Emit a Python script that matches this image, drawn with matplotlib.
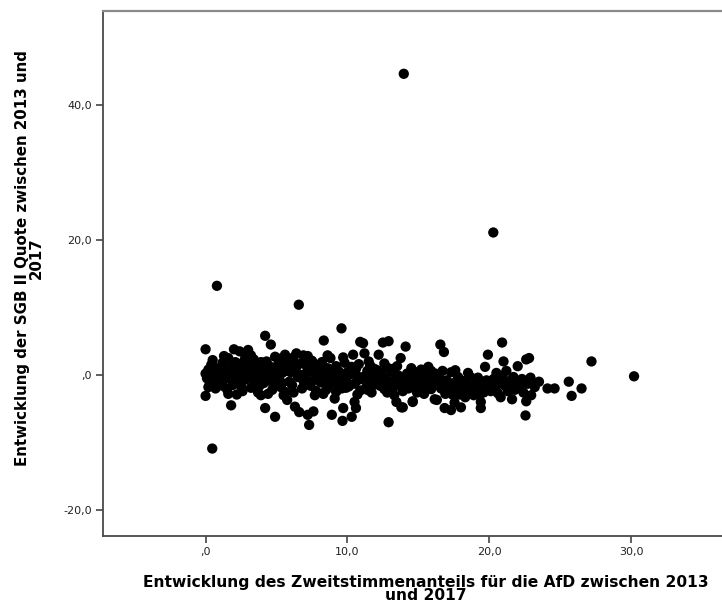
import numpy as np
import matplotlib
matplotlib.use('Agg')
import matplotlib.pyplot as plt

# Entwicklung Zweitstimmenanteil AfD (x) / SGB II Quote (y), 2013 -> 2017
afd = [
    0.0, 0.1, 0.2, 0.3, 0.4, 0.5, 0.6, 0.7, 0.8, 0.9, 0.2, 0.5, 0.9, 0.0, 0.0, 0.7, 0.4,
    1.0, 1.1, 1.2, 1.3, 1.4, 1.5, 1.6, 1.7, 1.8, 1.9, 1.1, 1.3, 1.5, 1.6, 1.8, 1.9, 1.2,
    2.0, 2.1, 2.2, 2.3, 2.4, 2.5, 2.6, 2.7, 2.8, 2.9, 2.2, 2.4, 2.6, 2.8, 2.5, 2.1, 3.0,
    3.0, 3.1, 3.2, 3.3, 3.4, 3.5, 3.6, 3.7, 3.8, 3.9, 3.2, 3.4, 3.6, 3.8, 3.3, 3.9, 3.5,
    4.0, 4.1, 4.2, 4.3, 4.4, 4.5, 4.6, 4.7, 4.8, 4.9, 4.2, 4.9, 4.4, 4.6, 4.1, 4.8, 4.3,
    5.0, 5.1, 5.2, 5.3, 5.4, 5.5, 5.6, 5.75, 5.8, 5.9, 5.2, 5.4, 5.6, 5.7, 5.9, 5.1, 5.5,
    6.0, 6.1, 6.2, 6.3, 6.4, 6.57, 6.6, 6.7, 6.8, 6.9, 6.2, 6.4, 6.5, 6.8, 6.1, 6.9, 6.5,
    7.0, 7.1, 7.2, 7.3, 7.3, 7.4, 7.5, 7.6, 7.7, 7.8, 7.9, 7.2, 7.5, 7.7, 7.9, 7.1, 7.6,
    8.0, 8.1, 8.2, 8.33, 8.4, 8.5, 8.6, 8.7, 8.8, 8.9, 8.3, 8.5, 8.7, 8.9, 8.2, 8.6,
    9.0, 9.1, 9.2, 9.3, 9.4, 9.58, 9.6, 9.65, 9.7, 9.8, 9.9, 9.2, 9.5, 9.7, 9.9, 9.4,
    10.0, 10.1, 10.3, 10.4, 10.5, 10.6, 10.6, 10.7, 10.8, 10.9, 10.9, 10.2, 10.5, 10.8, 10.3, 10.7,
    11.0, 11.1, 11.2, 11.3, 11.4, 11.5, 11.6, 11.7, 11.8, 11.9, 11.2, 11.5, 11.7, 11.9, 11.4,
    12.0, 12.2, 12.3, 12.5, 12.4, 12.6, 12.7, 12.8, 12.9, 12.9, 12.1, 12.5, 12.8, 12.3, 12.6,
    13.0, 13.1, 13.2, 13.45, 13.4, 13.5, 13.6, 13.75, 13.8, 13.8, 13.9, 13.2, 13.6, 13.97, 13.9, 13.3,
    14.0, 14.1, 14.2, 14.3, 14.4, 14.6, 14.6, 14.5, 14.7, 14.8, 14.9, 14.2, 14.5, 14.9,
    15.0, 15.1, 15.2, 15.3, 15.4, 15.5, 15.6, 15.7, 15.8, 15.9, 15.3, 15.6, 15.9,
    16.0, 16.15, 16.3, 16.2, 16.4, 16.55, 16.6, 16.7, 16.8, 16.85, 16.9, 16.3, 16.6, 16.9,
    17.0, 17.1, 17.3, 17.3, 17.55, 17.5, 17.7, 17.8, 17.9, 18.0, 17.4, 17.6, 17.9,
    18.1, 18.2, 18.4, 18.5, 18.6, 18.7, 18.8, 18.9, 18.3, 18.6, 18.9,
    19.0, 19.1, 19.2, 19.4, 19.4, 19.5, 19.7, 19.6, 19.8, 19.9, 19.9, 19.3,
    20.0, 20.1, 20.28, 20.3, 20.4, 20.5, 20.6, 20.7, 20.8, 20.9, 21.0, 20.9, 20.5,
    21.1, 21.2, 21.3, 21.4, 21.5, 21.6, 21.7, 21.8, 21.9, 22.0,
    22.1, 22.3, 22.4, 22.55, 22.6, 22.6, 22.8, 22.95, 22.7, 22.9,
    23.0, 23.2, 23.5, 24.1, 24.6, 25.6, 25.8, 26.5, 27.2, 30.2,
    0.8, 0.47,
]
sgb = [
    0.2, -0.5, 0.8, -1.2, 1.5, -0.2, 0.4, -2.0, 1.0, -0.8, -1.8, 2.2, 0.1, 3.8, -3.1, -1.4, -0.4,
    0.5, -1.0, 1.8, -0.3, 0.9, -2.1, 2.5, -0.6, 1.2, -1.5, 0.0, 2.8, 0.3, -2.8, -4.5, 0.6, -1.6,
    3.8, -0.2, 1.4, -1.1, 3.5, 0.5, -2.4, 2.0, -0.7, 1.1, -2.9, -0.5, 0.9, 2.6, -1.7, 1.9, 3.7,
    -0.3, 1.6, -1.9, 0.4, 2.3, -0.9, 1.0, -2.6, 0.0, 1.9, 2.9, -1.4, -0.3, -1.6, 0.9, -3.0, 0.6,
    0.8, -1.2, 5.8, 2.0, -0.4, 1.3, 4.5, -2.2, 0.2, 2.7, -4.9, -6.2, -2.8, -0.9, 1.8, -1.5, 0.5,
    1.0, -0.6, 2.4, -1.8, 0.3, 1.7, -2.5, -3.7, 0.9, 2.2, -0.1, -1.2, 3.0, 0.6, -1.0, 1.5, -3.0,
    0.4, -1.5, 2.6, -4.7, 1.2, 10.4, -5.5, 0.0, 1.8, -0.9, -2.6, 3.2, -0.3, -2.0, 0.9, 2.9, 1.5,
    -0.5, 1.4, -5.9, -7.4, 0.7, -1.6, 2.1, -5.4, 0.2, -2.4, 1.1, 2.8, -0.9, -3.0, -0.2, 0.3, 1.7,
    0.6, -1.1, 1.9, 5.1, -0.4, -2.2, 1.0, -1.6, 2.5, -5.9, -2.8, 0.1, 0.8, -0.9, -0.6, 2.9,
    -0.2, -3.5, 1.3, -1.4, 0.5, 6.9, -2.0, -6.8, -4.9, 1.8, -0.7, -2.5, 0.2, 2.6, -1.9, -1.0,
    0.4, -1.7, -6.2, 3.0, -4.0, -4.9, 0.9, -0.8, 1.6, 4.9, -2.3, 0.1, -1.3, -0.3, 1.2, -2.9,
    -0.6, 4.7, 3.2, -1.9, 0.6, -0.9, 1.4, -2.6, 0.0, -1.4, -0.2, 2.0, -0.4, 0.9, -2.2,
    -0.8, 3.0, -1.6, 4.8, 0.3, -2.1, -0.5, 1.1, 5.0, -7.0, 0.7, -1.2, -2.6, -0.1, 1.7,
    -1.1, 0.5, -2.0, -4.0, -0.3, 1.3, -1.5, 2.5, -4.8, -0.7, -2.4, 0.9, -0.1, 44.6, -4.8, -3.0,
    -1.2, 4.2, 0.2, -2.0, -0.6, -3.9, -4.0, 1.0, -1.6, 0.4, -2.6, -1.0, -0.2, -1.1,
    -0.4, -1.9, 0.8, -1.0, -2.8, 0.1, -1.5, 1.2, -0.7, -2.1, 0.3, -0.2, 0.6,
    -1.3, -3.6, -3.7, 0.2, -0.9, 4.5, -2.0, 0.6, 3.4, -4.9, -1.6, -0.2, -0.8, -2.8,
    -0.8, -1.9, -5.2, 0.4, -4.1, -1.2, -2.4, -0.3, -1.7, -4.8, -2.9, 0.7, -2.9,
    -0.9, -2.2, -1.0, 0.3, -1.6, -2.8, -0.5, -1.9, -3.3, -0.2, -3.0,
    -1.2, -2.3, -0.4, -4.0, -4.9, -1.5, 1.2, -2.6, -0.8, 3.0, -1.9, -2.9,
    -1.1, -2.4, 21.1, -0.6, -1.8, 0.3, -2.7, -1.3, -3.3, 4.8, 2.0, -0.2, -1.0,
    -1.6, 0.6, -2.4, -0.9, -1.9, -3.6, -0.3, -2.2, -1.2, 1.3,
    -1.9, -0.6, -2.6, -6.0, -3.9, 2.3, 2.5, -3.0, -1.3, -0.4,
    -1.0, -1.8, -1.0, -2.0, -2.0, -1.0, -3.1, -2.0, 2.0, -0.2,
    13.2, -10.9,
]

x_ticks = [0, 10, 20, 30]
x_labels = [',0', '10,0', '20,0', '30,0']
y_ticks = [-20, 0, 20, 40]
y_labels = ['-20,0', ',0', '20,0', '40,0']

fig = plt.figure(figsize=(7.22, 6.07), dpi=100)
ax = fig.add_axes([103/722, 1 - 536/607, 1 - 103/722, (536 - 11)/607])

ax.scatter(afd, sgb, s=55, c='black', edgecolors='none', zorder=3)

ax.set_xlim(-7.23, 36.4)
ax.set_ylim(-23.85, 53.9)
ax.set_xticks(x_ticks)
ax.set_xticklabels(x_labels)
ax.set_yticks(y_ticks)
ax.set_yticklabels(y_labels)
ax.tick_params(direction='out', length=5, width=1.2, color='#444444',
               labelsize=8, labelcolor='#222222', pad=3)

ax.spines['right'].set_visible(False)
ax.spines['top'].set_color('#8a8a8a')
ax.spines['top'].set_linewidth(1.6)
for s in ['left', 'bottom']:
    ax.spines[s].set_color('#4a4a4a')
    ax.spines[s].set_linewidth(1.3)

fig.text(426/722, 1 - 589/607, 'Entwicklung des Zweitstimmenanteils für die AfD zwischen 2013\nund 2017',
         ha='center', va='center', fontsize=11.2, fontweight='bold', linespacing=0.9)
fig.text(29/722, 1 - 258/607, 'Entwicklung der SGB II Quote zwischen 2013 und\n2017',
         ha='center', va='center', rotation=90, fontsize=10.8, fontweight='bold', linespacing=0.9)

fig.savefig('out.png', dpi=100)
